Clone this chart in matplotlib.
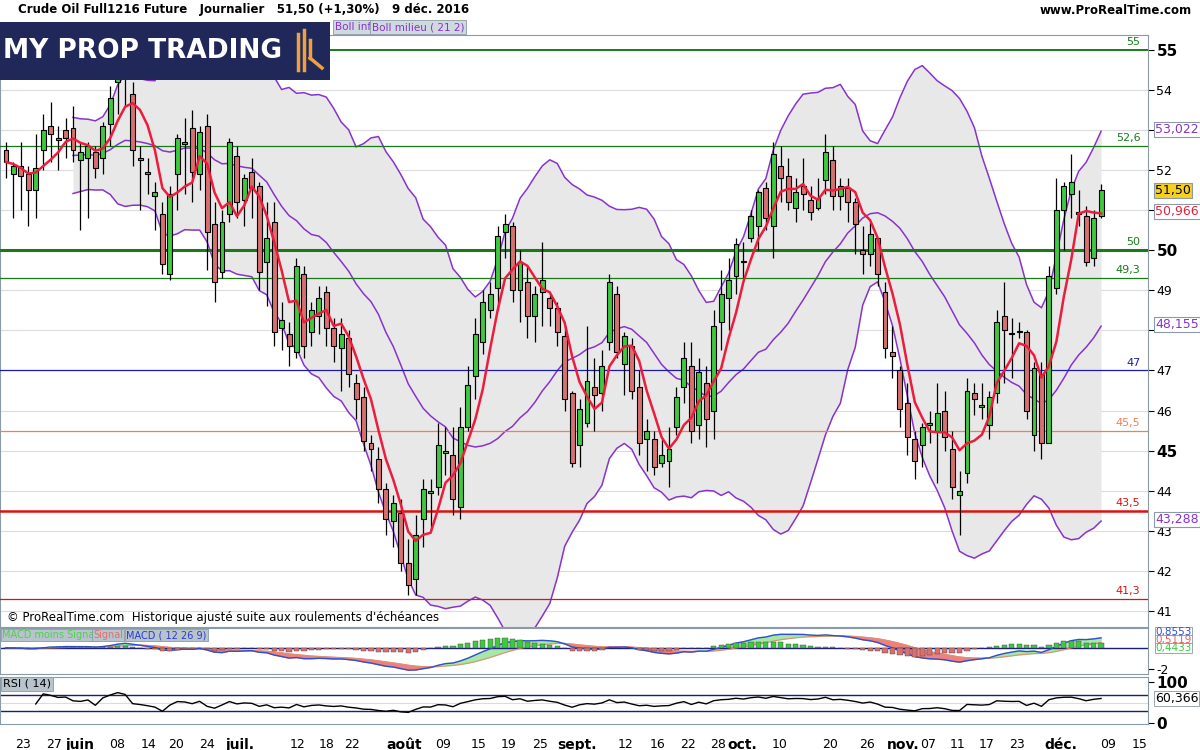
import numpy as np
import pandas as pd
import matplotlib
matplotlib.use("Agg")
import matplotlib.pyplot as plt
from matplotlib.patches import Rectangle

# ---------------- data ----------------
opens = [52.5,51.9,52.1,51.9,51.5,52.5,53.1,52.75,53.0,53.05,52.25,52.3,52.45,52.3,53.15,54.2,54.6,53.9,52.3,51.9,
         51.35,50.9,49.4,51.9,52.65,53.05,51.9,53.1,50.65,49.45,50.9,52.35,51.25,51.95,51.6,49.7,50.7,48.05,47.9,47.45,
         49.4,47.95,48.35,48.95,48.05,47.55,47.8,46.7,46.35,45.2,44.8,44.05,43.25,43.45,42.2,41.8,43.3,43.95,44.1,44.95,
         44.9,43.6,45.6,46.85,47.7,48.5,49.05,50.45,50.6,49.0,49.2,48.35,48.95,48.8,48.55,47.85,46.45,45.15,45.7,46.6,
         46.45,47.7,48.9,47.15,47.6,46.6,45.3,45.3,44.7,44.75,45.6,46.6,47.1,45.65,46.7,46.0,48.2,48.8,49.35,49.7,
         50.3,50.6,51.55,50.6,52.1,51.85,51.05,51.6,51.25,51.05,51.75,52.25,51.35,51.55,51.2,50.0,49.9,50.3,48.95,47.45,
         47.0,46.2,45.3,45.15,45.65,45.5,46.0,45.05,43.9,44.45,46.45,46.1,45.65,46.45,48.35,47.9,47.95,47.95,45.4,46.9,
         45.2,49.05,51.0,51.4,50.95,50.85,49.8,50.85]
highs = [52.7,52.2,52.7,52.1,52.9,53.4,53.7,53.1,53.3,53.6,52.7,52.7,52.6,53.2,54.1,55.0,55.0,54.2,52.6,52.3,
         51.7,51.2,51.6,52.9,53.3,53.5,53.1,53.4,51.2,51.0,52.8,52.6,51.9,52.3,51.7,51.2,51.2,48.7,48.2,49.8,
         49.6,48.7,49.1,49.1,48.3,48.3,48.0,46.9,46.6,45.4,45.1,44.2,43.9,43.8,42.8,43.4,44.3,44.3,45.7,45.6,
         45.6,46.1,47.1,48.3,49.0,49.2,50.6,50.9,50.7,50.0,49.6,49.1,50.2,48.9,48.7,48.1,46.5,46.3,48.1,47.3,
         47.5,49.4,49.1,47.95,47.8,47.0,45.8,45.5,45.3,45.6,46.6,47.7,47.7,47.3,47.1,48.5,49.5,49.8,50.3,50.2,
         51.0,51.5,51.7,52.7,52.6,52.3,51.8,52.3,51.6,51.8,52.9,52.6,51.8,51.8,51.3,50.6,50.7,50.3,49.2,48.1,
         47.1,46.7,45.5,45.7,46.0,46.7,46.5,45.5,44.5,46.8,46.7,46.7,46.5,48.5,49.2,48.3,48.2,48.0,47.2,47.2,
         49.6,51.8,51.7,52.4,51.5,51.1,51.0,51.65]
lows = [51.8,50.8,51.0,50.6,50.8,52.0,52.2,52.0,52.3,52.2,50.5,50.8,51.8,51.9,52.6,53.4,53.6,52.1,51.0,51.4,
        50.5,49.4,49.25,51.0,51.4,51.2,51.5,49.5,48.7,49.3,50.7,50.8,50.6,50.8,49.0,48.6,47.6,47.5,47.1,47.3,
        47.3,47.6,47.9,47.6,47.2,46.5,46.6,45.8,45.0,44.5,43.7,42.9,42.6,42.0,41.4,41.4,42.6,43.0,43.9,44.4,
        43.4,43.3,45.5,46.3,47.4,48.3,48.5,49.8,48.7,48.2,47.8,47.7,48.1,48.1,47.6,46.0,44.6,44.6,45.6,45.5,
        46.0,47.5,47.3,46.4,46.3,44.9,44.5,44.4,44.6,44.1,45.4,46.2,45.2,45.3,45.1,45.3,47.5,48.0,48.9,49.3,
        50.2,50.0,50.5,49.8,51.2,51.0,50.7,51.0,50.75,51.0,51.4,51.0,51.0,50.7,49.9,49.4,49.6,49.1,47.3,46.8,
        45.6,44.9,44.3,44.6,45.2,44.2,45.0,43.8,42.9,44.2,45.9,45.8,45.3,46.2,46.7,46.8,47.8,45.8,45.0,44.8,
        45.2,48.9,50.0,50.8,50.6,49.6,49.6,50.8]
closes = [52.2,52.1,51.85,51.5,52.05,53.0,52.9,52.75,52.8,52.5,52.45,52.6,52.05,53.1,53.8,54.6,54.35,52.5,52.25,51.9,
          51.45,49.65,51.4,52.8,52.65,51.95,52.95,50.45,49.2,50.7,52.7,51.2,51.8,51.55,49.45,50.3,47.95,48.25,47.6,49.6,
          47.6,48.5,48.8,48.05,47.6,47.9,46.9,46.3,45.25,45.05,44.05,43.3,43.7,42.2,41.65,42.9,44.05,43.95,45.15,44.95,
          43.8,45.6,46.65,47.9,48.7,48.9,50.35,50.65,49.0,49.7,48.35,48.9,49.25,48.55,47.95,46.3,44.7,46.05,46.75,46.4,
          47.1,49.2,47.45,47.85,46.5,45.2,45.5,44.6,44.9,45.05,46.35,47.3,45.5,46.95,45.8,48.1,48.9,49.25,50.15,49.7,
          50.85,51.45,50.8,52.4,51.8,51.2,51.45,51.4,50.95,51.3,52.45,51.35,51.6,51.2,50.65,49.9,50.4,49.4,47.55,47.35,
          46.05,45.35,44.75,45.6,45.65,45.95,45.35,44.1,44.0,46.5,46.3,46.1,46.35,48.2,48.0,47.9,47.95,46.0,47.05,45.2,
          49.35,51.0,51.6,51.7,50.9,49.7,50.8,51.5]

level_values = [55, 52.6, 50, 49.3, 47, 45.5, 43.5, 41.3]
level_labels = ["55", "52,6", "50", "49,3", "47", "45,5", "43,5", "41,3"]
level_colors = ["#1a7a1a", "#1a7a1a", "#1a7a1a", "#1a7a1a", "#1c1ca8", "#f08050", "#dd1111", "#dd1111"]
level_widths = [1.4, 0.9, 2.2, 0.9, 0.9, 0.9, 1.8, 0.9]

tick_pos = [2.3, 6.5, 9.9, 14.9, 19.1, 22.8, 27.0, 31.4, 39.2, 43.1, 46.4, 53.4, 58.7, 63.4, 67.4, 71.7,
            76.6, 83.2, 87.4, 91.5, 95.6, 98.8, 103.8, 110.6, 115.6, 120.5, 123.8, 127.8, 131.7, 135.7, 141.6, 148.0, 152.2]
tick_lab = ["23", "27", "juin", "08", "14", "20", "24", "juil.", "12", "18", "22", "août", "09", "15", "19", "25",
            "sept.", "12", "16", "22", "28", "oct.", "10", "20", "26", "nov.", "07", "11", "17", "23", "déc.", "09", "15"]
month_labels = {"juin", "juil.", "août", "sept.", "oct.", "nov.", "déc."}

last_tags = [(53.022, "53,022", "#8833cc", "white"), (51.50, "51,50", "black", "#f5d020"),
             (50.966, "50,966", "#e8203c", "white"), (48.155, "48,155", "#8833cc", "white"),
             (43.288, "43,288", "#8833cc", "white")]
macd_tags = [(1.5, "0,8553", "#3050d0"), (0.75, "0,5119", "#e06060"), (0.0, "0,4433", "#3ec93e")]
rsi_last = 60.366

# ---------------- indicators ----------------
c = pd.Series(closes)
n = len(closes)
idx = np.arange(n)
mid = c.rolling(21, min_periods=10).mean()
sd = c.rolling(21, min_periods=10).std(ddof=0)
up, lo = mid + 2 * sd, mid - 2 * sd
ma5 = c.rolling(5, min_periods=1).mean()
macd = c.ewm(span=12, adjust=False).mean() - c.ewm(span=26, adjust=False).mean()
sig = macd.ewm(span=9, adjust=False).mean()
hist = macd - sig
d = c.diff().fillna(0)
gain = d.clip(lower=0).ewm(alpha=1/14, adjust=False).mean()
loss = (-d.clip(upper=0)).ewm(alpha=1/14, adjust=False).mean()
rsi = (100 - 100 / (1 + gain / loss.replace(0, np.nan)))
rsi[:4] = np.nan

# ---------------- figure ----------------
W, H = 1200, 750
fig = plt.figure(figsize=(12, 7.5), dpi=100)
fig.patch.set_facecolor("white")

def rect(x0, y0, x1, y1):
    return [x0 / W, 1 - y1 / H, (x1 - x0) / W, (y1 - y0) / H]

XL = (-0.8, 153.3)
ax = fig.add_axes(rect(0, 35, 1148, 627))
axm = fig.add_axes(rect(0, 628, 1148, 674))
axr = fig.add_axes(rect(0, 677, 1148, 724))
for a in (ax, axm, axr):
    a.set_xlim(*XL)
    a.yaxis.tick_right()
    for s in a.spines.values():
        s.set_color("#8a9aa8")
    a.tick_params(axis="y", labelsize=9, length=4, pad=2)
    a.tick_params(axis="x", length=0)
    a.set_xticks([])

# main
YL = (40.6, 55.37)
ax.set_ylim(*YL)
ax.set_yticks(range(41, 56))
ax.set_yticklabels(["" if v in (48, 51, 53) else str(v) for v in range(41, 56)])
for t, v in zip(ax.get_yticklabels(), range(41, 56)):
    if v in (45, 50, 55):
        t.set_fontweight("bold"); t.set_fontsize(11)
for v in range(41, 56):
    ax.axhline(v, color="#dcdcdc", lw=0.8, zorder=0)
ax.fill_between(idx, lo, up, color="#e8e8e8", zorder=1, lw=0)
for s in (up, mid, lo):
    ax.plot(idx, s, color="#8833cc", lw=1.1, zorder=2)
for v, lab, col, lw in zip(level_values, level_labels, level_colors, level_widths):
    ax.axhline(v, color=col, lw=lw, zorder=3)
    ax.text(152.3, v + 0.07, lab, color=col, fontsize=8, ha="right", va="bottom", zorder=6)
for i in range(n):
    o, h_, l_, cl = opens[i], highs[i], lows[i], closes[i]
    col = "#3ec93e" if cl >= o else "#d97070"
    ax.vlines(i, l_, h_, color="black", lw=0.9, zorder=4)
    b = max(abs(cl - o), 0.04)
    ax.add_patch(Rectangle((i - 0.33, min(o, cl)), 0.66, b, facecolor=col, edgecolor="black", lw=0.8, zorder=5))
ax.plot(idx, ma5, color="#ee1c3c", lw=1.8, zorder=6)
for val, lab, fc, bg in last_tags:
    ax.text(1.006, (val - YL[0]) / (YL[1] - YL[0]), lab, transform=ax.transAxes, color=fc, fontsize=9,
            va="center", ha="left", bbox=dict(boxstyle="square,pad=0.08", fc=bg, ec="#8a9aa8", lw=0.8),
            zorder=10, clip_on=False)
ax.text(0.2, 41.0, "© ProRealTime.com  Historique ajusté suite aux roulements d'échéances", fontsize=8.5, va="top")

# MACD
axm.set_ylim(-2.5, 1.9)
axm.set_yticks([-2]); axm.set_yticklabels(["-2"])
axm.axhline(0, color="#1c1c80", lw=1, zorder=2)
colors_h = ["#3ec93e" if v >= 0 else "#d97070" for v in hist]
axm.bar(idx, hist, width=0.7, color=colors_h, edgecolor="#404040", lw=0.3, zorder=3)
axm.fill_between(idx, macd, sig, where=macd >= sig, color="#a6e8a6", interpolate=True, zorder=1)
axm.fill_between(idx, macd, sig, where=macd < sig, color="#ee8080", interpolate=True, zorder=1)
axm.plot(idx, sig, color="#e09070", lw=0.8, zorder=2)
axm.plot(idx, macd, color="#3050d0", lw=1, zorder=2)
for val, lab, col in macd_tags:
    axm.text(1.006, (val + 2.5) / 4.4, lab, transform=axm.transAxes, color=col, fontsize=7.5, va="center",
             bbox=dict(boxstyle="square,pad=0.03", fc="white", ec="#8a9aa8", lw=0.6), clip_on=False)
for lab, col, xp in [("MACD moins Signal", "#50d050", 2), ("Signal", "#e07070", 93), ("MACD ( 12 26 9)", "#2a3ad0", 126)]:
    fig.text(xp / W, 1 - 635 / H, lab, color=col, fontsize=7, va="center", ha="left",
             bbox=dict(boxstyle="square,pad=0.12", fc="#b8c4cc", ec="#8a9aa8", lw=0.6))

# RSI
axr.set_ylim(-2, 113)
axr.set_yticks([0, 100]); axr.set_yticklabels(["0", "100"], fontweight="bold", fontsize=11)
axr.axhline(70, color="#1c1c80", lw=1)
axr.axhline(30, color="#1c1c80", lw=1)
axr.axhline(50, color="#dcdcdc", lw=0.8)
axr.plot(idx, rsi, color="black", lw=1)
axr.text(1.006, (rsi_last + 2) / 115, "60,366", transform=axr.transAxes, fontsize=9, va="center",
         bbox=dict(boxstyle="square,pad=0.08", fc="white", ec="#8a9aa8", lw=0.6), clip_on=False)
fig.text(3 / W, 1 - 684 / H, "RSI ( 14)", fontsize=8, va="center",
         bbox=dict(boxstyle="square,pad=0.15", fc="#b8c4cc", ec="#8a9aa8", lw=0.6))
axr.set_xticks(tick_pos)
axr.set_xticklabels(tick_lab, fontsize=9)
for t, lab in zip(axr.get_xticklabels(), tick_lab):
    if lab in month_labels:
        t.set_fontweight("bold"); t.set_fontsize(10)
axr.tick_params(axis="x", pad=10)

# header
fig.text(18 / W, 1 - 10 / H, "Crude Oil Full1216 Future   Journalier   51,50 (+1,30%)   9 déc. 2016",
         fontsize=8.5, fontweight="bold", va="center")
fig.text(1192 / W, 1 - 10 / H, "www.ProRealTime.com", fontsize=8.5, fontweight="bold", va="center", ha="right")
lg = fig.add_axes(rect(0, 22, 330, 80))
lg.set_facecolor("#1f2858"); lg.set_xticks([]); lg.set_yticks([])
lg.set_xlim(0, 330); lg.set_ylim(0, 58)
for s in lg.spines.values():
    s.set_visible(False)
lg.text(3, 29, "MY PROP TRADING", color="white", fontsize=19, fontweight="bold", va="center")
for xx, y0, y1 in [(298, 10, 46), (304, 10, 50), (310, 22, 40)]:
    lg.plot([xx, xx], [y0, y1], color="#f0a040", lw=2.5)
lg.plot([310, 322], [22, 12], color="#f0a040", lw=2.5)
fig.text(335 / W, 1 - 27 / H, "Boll inf", color="#8833cc", fontsize=7.5, va="center",
         bbox=dict(boxstyle="square,pad=0.15", fc="#d0d8e0", ec="#8a9aa8", lw=0.6))
fig.text(372 / W, 1 - 27 / H, "Boll milieu ( 21 2)", color="#8833cc", fontsize=7.5, va="center",
         bbox=dict(boxstyle="square,pad=0.15", fc="#d0d8e0", ec="#8a9aa8", lw=0.6))

fig.savefig("out.png", dpi=100)
